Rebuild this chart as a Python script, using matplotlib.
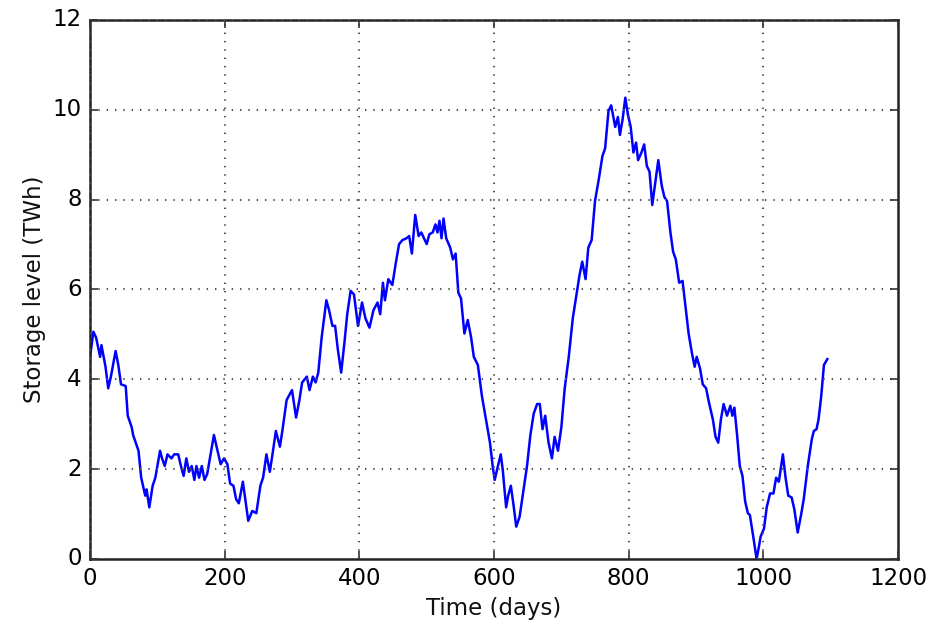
import matplotlib
matplotlib.use("Agg")
import matplotlib.pyplot as plt

# storage level
days = [0, 5, 9, 15, 17, 23, 27, 31, 38, 42, 46, 53, 56, 62, 64, 72, 76, 82, 84, 88,
	93, 97, 104, 107, 111, 115, 121, 125, 131, 135, 139, 143, 147, 151, 155, 158, 162,
	166, 170, 174, 178, 184, 188, 194, 199, 204, 208, 213, 217, 221, 227, 231, 235,
	241, 247, 253, 257, 262, 267, 271, 276, 282, 286, 292, 300, 306, 311, 315, 322,
	326, 331, 335, 339, 344, 351, 355, 360, 364, 368, 373, 378, 382, 387, 392, 398,
	404, 409, 415, 421, 427, 431, 435, 438, 443, 449, 454, 459, 464, 470, 474, 478,
	483, 488, 492, 496, 500, 504, 509, 513, 516, 519, 522, 525, 529, 535, 539, 543,
	547, 551, 556, 561, 566, 570, 576, 582, 588, 594, 598, 601, 605, 610, 613, 618,
	621, 625, 629, 633, 638, 643, 649, 654, 659, 664, 668, 672, 676, 681, 686, 690,
	695, 700, 705, 711, 717, 723, 727, 731, 736, 740, 745, 750, 756, 761, 765, 770,
	774, 780, 784, 787, 791, 795, 799, 803, 807, 811, 814, 819, 823, 827, 831, 835,
	839, 844, 849, 853, 857, 862, 866, 870, 875, 880, 885, 889, 894, 898, 901, 906,
	910, 915, 919, 925, 929, 933, 937, 941, 946, 951, 954, 957, 961, 965, 969, 973,
	977, 980, 985, 990, 993, 996, 1001, 1005, 1010, 1015, 1019, 1023, 1029, 1033,
	1037, 1042, 1046, 1051, 1056, 1060, 1066, 1072, 1075, 1079, 1082, 1086, 1090, 1095]
storage = [4.5, 5.06, 4.93, 4.5, 4.76, 4.28, 3.8, 4.06, 4.63, 4.32, 3.89, 3.85, 3.19,
	2.93, 2.76, 2.41, 1.81, 1.41, 1.55, 1.15, 1.63, 1.81, 2.41, 2.24, 2.07, 2.33, 2.24,
	2.33, 2.33, 2.07, 1.85, 2.24, 1.94, 2.07, 1.76, 2.07, 1.81, 2.07, 1.76, 1.89, 2.24,
	2.76, 2.5, 2.11, 2.24, 2.11, 1.68, 1.63, 1.33, 1.24, 1.72, 1.28, 0.85, 1.07, 1.02,
	1.63, 1.81, 2.33, 1.94, 2.33, 2.85, 2.5, 2.89, 3.54, 3.76, 3.15, 3.54, 3.93, 4.06,
	3.76, 4.06, 3.93, 4.15, 4.93, 5.76, 5.54, 5.19, 5.19, 4.67, 4.15, 4.84, 5.45, 5.97,
	5.89, 5.19, 5.71, 5.36, 5.15, 5.54, 5.71, 5.45, 6.15, 5.76, 6.23, 6.1, 6.58, 7.01,
	7.1, 7.14, 7.19, 6.8, 7.66, 7.19, 7.27, 7.14, 7.01, 7.23, 7.27, 7.45, 7.27, 7.53,
	7.14, 7.58, 7.14, 6.93, 6.67, 6.8, 5.93, 5.8, 5.02, 5.32, 4.93, 4.5, 4.32, 3.63,
	3.11, 2.59, 2.07, 1.76, 2.02, 2.33, 1.98, 1.15, 1.41, 1.63, 1.2, 0.72, 0.94, 1.46,
	2.07, 2.76, 3.24, 3.45, 3.45, 2.89, 3.19, 2.59, 2.24, 2.72, 2.41, 2.93, 3.8, 4.5,
	5.36, 5.93, 6.32, 6.62, 6.23, 6.93, 7.1, 7.97, 8.49, 8.97, 9.14, 9.97, 10.1, 9.62,
	9.84, 9.44, 9.79, 10.27, 9.88, 9.62, 9.05, 9.27, 8.88, 9.05, 9.23, 8.75, 8.62, 7.88,
	8.32, 8.88, 8.32, 8.06, 7.97, 7.27, 6.84, 6.67, 6.15, 6.19, 5.54, 5.02, 4.58, 4.28,
	4.5, 4.24, 3.89, 3.8, 3.5, 3.11, 2.72, 2.59, 3.11, 3.45, 3.19, 3.41, 3.19, 3.37,
	2.76, 2.07, 1.85, 1.28, 1.02, 0.98, 0.5, 0.0, 0.24, 0.5, 0.68, 1.15, 1.46, 1.46,
	1.81, 1.72, 2.33, 1.81, 1.41, 1.37, 1.11, 0.59, 0.98, 1.33, 2.07, 2.67, 2.85, 2.89,
	3.11, 3.63, 4.32, 4.45]

x_ticks = [0, 200, 400, 600, 800, 1000, 1200]
y_ticks = [0, 2, 4, 6, 8, 10, 12]

plt.style.use("classic")
fig = plt.figure(figsize=(9.3, 6.3), dpi=100, facecolor="white")
ax = fig.add_axes([0.0968, 0.1127, 0.8688, 0.8556])
ax.plot(days, storage, color="b", linewidth=1.8)
ax.set_xlim(0, 1200)
ax.set_ylim(0, 12)
ax.set_xticks(x_ticks)
ax.set_yticks(y_ticks)
ax.tick_params(labelsize=16.5, length=6, width=1.2, color="#333333", pad=6)
ax.grid(True, color="#555555", linestyle=(0, (1, 5)), linewidth=1.5)
for s in ax.spines.values():
	s.set_linewidth(1.8)
	s.set_color("#222222")
ax.set_xlabel("Time (days)", fontsize=16.5, color="#111111")
ax.set_ylabel("Storage level (TWh)", fontsize=16.5, color="#111111")

fig.savefig("out.png", dpi=100, facecolor="white")
